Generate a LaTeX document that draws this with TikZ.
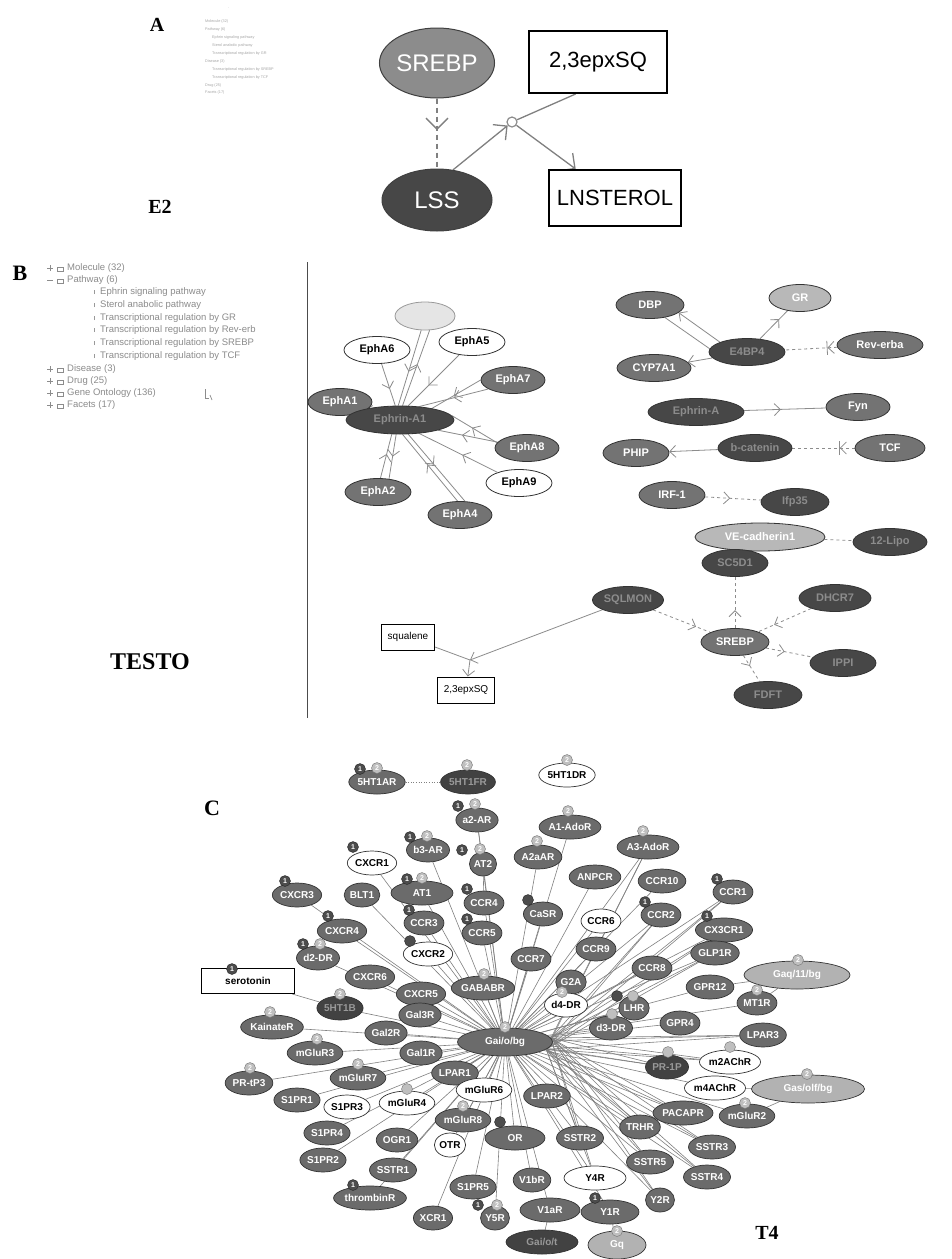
\documentclass[tikz,border=0pt]{standalone}
\usepackage{fontspec}
\setmainfont{Liberation Serif}
\setsansfont{Liberation Sans}
\usetikzlibrary{shapes.geometric,arrows.meta,decorations.markings}
\pgfdeclarelayer{bgzero}
\pgfdeclarelayer{edges}
\pgfsetlayers{bgzero,edges,main}
\tikzset{
  lbl/.style={font=\bfseries\fontsize{20}{22}\selectfont, inner sep=0},
  tinytxt/.style={font=\sffamily\fontsize{3.8}{4}\selectfont, text=black!35, anchor=west, inner sep=0},
  tree/.style={font=\sffamily\fontsize{9.5}{10}\selectfont, text=black!45, anchor=west, inner sep=0},
  ellA/.style={ellipse, draw=black!75, line width=1pt, text=white, font=\sffamily\fontsize{24}{26}\selectfont, inner sep=0},
  boxA/.style={rectangle, draw=black, line width=2pt, fill=white, font=\sffamily\fontsize{22}{24}\selectfont, inner sep=0},
  edA/.style={draw=black!50, line width=1.3pt},
  nB/.style={ellipse, draw=black!80, line width=0.8pt, fill=black!55, text=white, font=\sffamily\bfseries\fontsize{11}{12}\selectfont, inner xsep=1pt, inner ysep=2pt, minimum height=27},
  nBw/.style={nB, fill=white, text=black},
  nBd/.style={nB, fill=black!72, text=black!45},
  nBl/.style={nB, fill=black!28, text=white},
  boxB/.style={rectangle, draw=black, line width=1pt, fill=white, font=\sffamily\fontsize{10}{11}\selectfont, minimum height=26, inner xsep=6pt},
  edB/.style={draw=black!45, line width=0.8pt},
  barbat/.style={postaction={decorate,decoration={markings,mark=at position #1 with {\arrow[line width=0.8pt]{Straight Barb[length=6pt,width=12pt]}}}}},
  barbbar/.style={postaction={decorate,decoration={markings,mark=at position #1 with {\arrow[line width=0.8pt]{Straight Barb[length=6pt,width=12pt] Bar[width=14pt]}}}}},
  bigbarb/.style={postaction={decorate,decoration={markings,mark=at position #1 with {\arrow[line width=1.3pt]{Straight Barb[length=11pt,width=22pt]}}}}},
  cg/.style={ellipse, draw=black!80, line width=0.7pt, fill=black!58, text=white, font=\sffamily\bfseries\fontsize{10}{11}\selectfont, inner xsep=0.5pt, inner ysep=2pt, minimum height=24},
  cw/.style={cg, fill=white, text=black},
  cd/.style={cg, fill=black!74, text=black!40},
  cl/.style={cg, fill=black!30, text=white, minimum height=28},
  bo/.style={circle, fill=black!70, draw=black!85, text=white, font=\sffamily\bfseries\fontsize{7}{7}\selectfont, inner sep=0, minimum size=11},
  bt/.style={bo, fill=black!25, draw=black!55},
  ce/.style={draw=black!50, line width=0.6pt},
}
\begin{document}
\begin{tikzpicture}[x=1pt,y=-1pt]
\useasboundingbox (0,0) rectangle (951,1259);
\begin{pgfonlayer}{bgzero}\fill[white] (0,0) rectangle (951,1259);\end{pgfonlayer}

% ================= PANEL A =================
\node[lbl] (labA) at (157,25) {A};
\node[lbl] (labE2) at (160,207) {E2};
\node[tinytxt] (ta0) at (228,8) {.};
\node[tinytxt] (ta1) at (205,22) {Molecule (32)};
\node[tinytxt] (ta2) at (205,30) {Pathway (6)};
\node[tinytxt] (ta3) at (212,38) {Ephrin signaling pathway};
\node[tinytxt] (ta4) at (212,46) {Sterol anabolic pathway};
\node[tinytxt] (ta5) at (212,54) {Transcriptional regulation by GR};
\node[tinytxt] (ta6) at (205,62) {Disease (3)};
\node[tinytxt] (ta7) at (212,70) {Transcriptional regulation by SREBP};
\node[tinytxt] (ta8) at (212,78) {Transcriptional regulation by TCF};
\node[tinytxt] (ta9) at (205,86) {Drug (25)};
\node[tinytxt] (ta10) at (205,93) {Facets (17)};

\node[ellA, fill=black!45, minimum width=106, minimum height=70] (srebpA) at (437,63) {SREBP};
\node[boxA, minimum width=138, minimum height=62] (epxA) at (598,62) {2,3epxSQ};
\node[ellA, fill=black!72, minimum width=110, minimum height=62] (lssA) at (437,200) {LSS};
\node[boxA, minimum width=132, minimum height=56] (lnsA) at (615,198) {LNSTEROL};
\node[circle, draw=black!45, line width=1.2pt, minimum size=10, inner sep=0, fill=white] (rxA) at (512,122) {};
\begin{pgfonlayer}{edges}
\draw[edA, dashed, dash pattern=on 5pt off 4pt, bigbarb=0.45] (srebpA) -- (lssA);
\draw[edA, -{Straight Barb[length=10pt,width=20pt]}] (lssA.62) -- (rxA);
\draw[edA] (epxA.-125) -- (rxA);
\draw[edA, -{Straight Barb[length=11pt,width=22pt]}] (rxA) -- (lnsA);
\end{pgfonlayer}

% ================= PANEL B =================
\node[lbl, font=\bfseries\fontsize{22}{24}\selectfont] (labB) at (20,273) {B};
\draw[black!70, line width=1pt] (307,262) -- (307,718);
\node[tree] (t0) at (67,268) {Molecule (32)};
\node[tree] (t1) at (67,280) {Pathway (6)};
\node[tree] (t2) at (100,292) {Ephrin signaling pathway};
\node[tree] (t3) at (100,305) {Sterol anabolic pathway};
\node[tree] (t4) at (100,318) {Transcriptional regulation by GR};
\node[tree] (t5) at (100,330) {Transcriptional regulation by Rev-erb};
\node[tree] (t6) at (100,343) {Transcriptional regulation by SREBP};
\node[tree] (t7) at (100,356) {Transcriptional regulation by TCF};
\node[tree] (t8) at (67,369) {Disease (3)};
\node[tree] (t9) at (67,381) {Drug (25)};
\node[tree] (t10) at (67,393) {Gene Ontology (136)};
\node[tree] (t11) at (67,405) {Facets (17)};
\foreach \yy in {268,369,381,393,405} {\draw[black!45, line width=0.6pt] (47,\yy) -- (53,\yy) (50,\yy-3) -- (50,\yy+3);}
\draw[black!45, line width=0.6pt] (47,280) -- (53,280);
\foreach \yy in {268,280,369,381,393,405} {\draw[black!45, line width=0.6pt] (57,\yy+3) -- (57,\yy-1) -- (63,\yy-1) -- (63,\yy+3) -- cycle;}
\foreach \yy in {292,305,318,330,343,356} {\draw[black!40, line width=0.6pt] (94,\yy+2) -- (94,\yy-2);}
\draw[black!45, line width=0.7pt] (205,389) -- (205,398) -- (209,398);
\draw[black!45, line width=0.7pt] (210,395) -- (212,400);

\node[nB, fill=black!10, draw=black!40, minimum width=60, minimum height=28] (blank) at (425,316) {};
\node[nBw, minimum width=66] (ephA6) at (377,350) {EphA6};
\node[nBw, minimum width=66] (ephA5) at (472,342) {EphA5};
\node[nB, minimum width=64] (ephA7) at (513,380) {EphA7};
\node[nB, minimum width=64] (ephA1) at (340,402) {EphA1};
\node[nBd, minimum width=108, minimum height=28] (ephrinA1) at (400,420) {Ephrin-A1};
\node[nB, minimum width=64] (ephA8) at (527,448) {EphA8};
\node[nBw, minimum width=66] (ephA9) at (519,483) {EphA9};
\node[nB, minimum width=66] (ephA2) at (378,492) {EphA2};
\node[nB, minimum width=64] (ephA4) at (460,515) {EphA4};
\begin{pgfonlayer}{edges}
\draw[edB, barbat=0.6] (ephA6) -- (ephrinA1);
\draw[edB, barbat=0.55] (blank.-105) -- (ephrinA1.97);
\draw[edB, barbat=0.55] (ephrinA1.80) -- (blank.-72);
\draw[edB, barbat=0.6] (ephA5) -- (ephrinA1.60);
\draw[edB, barbat=0.5] (ephA7.200) -- (ephrinA1.35);
\draw[edB, barbat=0.55] (ephA7.180) -- (ephrinA1.20);
\draw[edB, barbat=0.7] (ephA1) -- (ephrinA1);
\draw[edB, barbat=0.6] (ephA8) -- (ephrinA1.-15);
\draw[edB, barbat=0.55] (ephA8.170) -- (ephrinA1.5);
\draw[edB, barbat=0.45] (ephA9) -- (ephrinA1.-35);
\draw[edB, barbat=0.55] (ephA2.80) -- (ephrinA1.-120);
\draw[edB, barbat=0.5] (ephrinA1.-105) -- (ephA2.50);
\draw[edB, barbat=0.55] (ephA4.100) -- (ephrinA1.-80);
\draw[edB, barbat=0.45] (ephrinA1.-60) -- (ephA4.70);
\end{pgfonlayer}

\node[nB, minimum width=68] (dbp) at (650,305) {DBP};
\node[nBl, minimum width=62] (gr) at (800,298) {GR};
\node[nBd, minimum width=76] (e4bp4) at (747,352) {E4BP4};
\node[nB, minimum width=86] (reverb) at (880,345) {Rev-erba};
\node[nB, minimum width=74] (cyp) at (654,368) {CYP7A1};
\node[nBd, minimum width=96] (ephrinA) at (696,412) {Ephrin-A};
\node[nB, minimum width=64] (fyn) at (858,407) {Fyn};
\node[nB, minimum width=66] (phip) at (636,453) {PHIP};
\node[nBd, minimum width=74] (bcat) at (755,448) {b-catenin};
\node[nB, minimum width=70] (tcf) at (890,448) {TCF};
\node[nB, minimum width=66] (irf) at (672,495) {IRF-1};
\node[nBd, minimum width=68] (ifp) at (795,502) {Ifp35};
\node[nBl, minimum width=130, minimum height=28] (vecad) at (760,537) {VE-cadherin1};
\node[nBd, minimum width=74] (lipo) at (890,542) {12-Lipo};
\node[nBd, minimum width=66] (sc5d) at (735,563) {SC5D1};
\node[nBd, minimum width=68] (sqlmon) at (628,600) {SQLMON};
\node[nBd, minimum width=72] (dhcr) at (835,598) {DHCR7};
\node[boxB] (squal) at (408,637) {squalene};
\node[nB, minimum width=68] (srebpB) at (735,642) {SREBP};
\node[nBd, minimum width=66] (ippi) at (843,663) {IPPI};
\node[boxB] (epxB) at (466,690) {2,3epxSQ};
\node[nBd, minimum width=68] (fdft) at (768,695) {FDFT};
\coordinate (jB) at (470,660);
\begin{pgfonlayer}{edges}
\draw[edB, -{Straight Barb[length=6pt,width=12pt]}] (e4bp4.160) -- (dbp.-15);
\draw[edB] (e4bp4.175) -- (dbp.-40);
\draw[edB, barbat=0.7] (e4bp4) -- (gr);
\draw[edB, dashed, barbbar=0.2] (reverb) -- (e4bp4);
\draw[edB, -{Straight Barb[length=6pt,width=12pt]}] (e4bp4) -- (cyp);
\draw[edB, barbat=0.45] (ephrinA) -- (fyn);
\draw[edB, -{Straight Barb[length=6pt,width=12pt]}] (bcat) -- (phip);
\draw[edB, dashed, barbbar=0.25] (tcf) -- (bcat);
\draw[edB, dashed, barbat=0.45] (irf) -- (ifp);
\draw[edB, dashed] (vecad) -- (lipo);
\draw[edB, dashed, barbat=0.35] (srebpB) -- (sc5d);
\draw[edB, dashed, barbat=0.75] (sqlmon) -- (srebpB);
\draw[edB, dashed, barbat=0.7] (dhcr) -- (srebpB);
\draw[edB, dashed, barbat=0.4] (srebpB) -- (ippi);
\draw[edB, dashed, barbat=0.4] (srebpB) -- (fdft);
\draw[edB] (squal) -- (jB);
\draw[edB, -{Straight Barb[length=6pt,width=12pt]}] (sqlmon) -- (jB);
\draw[edB, -{Straight Barb[length=6pt,width=12pt]}] (jB) -- (epxB);
\end{pgfonlayer}
\node[lbl, font=\bfseries\fontsize{24}{26}\selectfont] (labT) at (150,662) {TESTO};

% ================= PANEL C =================
\node[lbl, font=\bfseries\fontsize{22}{24}\selectfont] (labC) at (212,808) {C};
\node[lbl] (labT4) at (767,1233) {T4};

\node[cg] (c5HT1AR) at (377,782) {5HT1AR}; \node[bo] (k1) at (360,769) {1}; \node[bt] (k2) at (377,768) {2};
\node[cd] (c5HT1FR) at (468,782) {5HT1FR}; \node[bt] (k3) at (467,765) {2};
\node[cw] (c5HT1DR) at (567,775) {5HT1DR}; \node[bt] (k4) at (567,760) {2};

\node[cg] (ca2AR) at (477,820) {a2-AR}; \node[bo] (k5) at (458,806) {1}; \node[bt] (k6) at (475,804) {2};
\node[cg] (cA1Ado) at (570,827) {A1-AdoR}; \node[bt] (k7) at (568,811) {2};
\node[cg] (cA3Ado) at (648,847) {A3-AdoR}; \node[bt] (k8) at (643,831) {2};
\node[cw] (cCXCR1) at (372,863) {CXCR1}; \node[bo] (k9) at (353,847) {1};
\node[cg] (cb3AR) at (428,850) {b3-AR}; \node[bo] (k10) at (410,837) {1}; \node[bt] (k11) at (427,836) {2};
\node[cg] (cAT2) at (483,864) {AT2}; \node[bo] (k12) at (462,850) {1}; \node[bt] (k13) at (480,849) {2};
\node[cg] (cA2aAR) at (538,857) {A2aAR}; \node[bt] (k14) at (537,841) {2};
\node[cg] (cANPCR) at (595,877) {ANPCR};
\node[cg] (cCCR10) at (662,881) {CCR10};
\node[cg] (cCCR1) at (733,892) {CCR1}; \node[bo] (k15) at (717,879) {1};
\node[cg] (cCXCR3) at (297,895) {CXCR3}; \node[bo] (k16) at (285,881) {1};
\node[cg] (cBLT1) at (362,895) {BLT1};
\node[cg, minimum width=62] (cAT1) at (422,893) {AT1}; \node[bo] (k17) at (407,879) {1}; \node[bt] (k18) at (422,878) {2};
\node[cg] (cCCR4) at (484,903) {CCR4}; \node[bo] (k19) at (467,889) {1};
\node[cg] (cCaSR) at (543,914) {CaSR}; \node[bo] (k20) at (528,900) {};
\node[cw] (cCCR6) at (601,921) {CCR6};
\node[cg] (cCCR2) at (661,915) {CCR2}; \node[bo] (k21) at (645,902) {1};
\node[cg] (cCX3CR1) at (724,930) {CX3CR1}; \node[bo] (k22) at (707,916) {1};
\node[cg] (cCXCR4) at (342,931) {CXCR4}; \node[bo] (k23) at (328,916) {1};
\node[cg] (cCCR3) at (424,923) {CCR3}; \node[bo] (k24) at (409,910) {1};
\node[cg] (cCCR5) at (482,933) {CCR5}; \node[bo] (k25) at (467,919) {1};
\node[cw] (cCXCR2) at (428,954) {CXCR2}; \node[bo] (k26) at (410,941) {};
\node[cg] (cd2DR) at (318,958) {d2-DR}; \node[bo] (k27) at (303,944) {1}; \node[bt] (k28) at (320,944) {2};
\node[cg] (cCCR9) at (596,949) {CCR9};
\node[cg] (cGLP1R) at (715,953) {GLP1R};
\node[cg] (cCCR7) at (531,959) {CCR7};
\node[cl, minimum width=106] (cGaq) at (797,975) {Gaq/11/bg}; \node[bt] (k29) at (798,960) {2};
\node[rectangle, draw=black, line width=0.8pt, fill=white, font=\sffamily\bfseries\fontsize{10}{11}\selectfont, minimum width=93, minimum height=25] (cserot) at (248,981) {serotonin}; \node[bo] (k30) at (232,969) {1};
\node[cg] (cCXCR6) at (370,977) {CXCR6};
\node[cg] (cG2A) at (571,982) {G2A};
\node[cg] (cCCR8) at (652,968) {CCR8};
\node[cg] (cGPR12) at (710,987) {GPR12};
\node[cg] (cGABABR) at (483,988) {GABABR}; \node[bt] (k31) at (484,974) {2};
\node[cg] (cCXCR5) at (421,994) {CXCR5};
\node[cw] (cd4DR) at (566,1005) {d4-DR}; \node[bt] (k32) at (562,992) {2};
\node[cg] (cLHR) at (634,1008) {LHR}; \node[bo] (k33) at (617,996) {}; \node[bt] (k34) at (633,996) {};
\node[cg] (cMT1R) at (757,1003) {MT1R}; \node[bt] (k35) at (757,990) {2};
\node[cd] (c5HT1B) at (340,1008) {5HT1B}; \node[bt] (k36) at (340,994) {2};
\node[cg] (cGal3R) at (420,1015) {Gal3R};
\node[cg] (cKainR) at (272,1027) {KainateR}; \node[bt] (k37) at (270,1012) {2};
\node[cg] (cd3DR) at (611,1028) {d3-DR}; \node[bt] (k38) at (612,1014) {};
\node[cg] (cGPR4) at (680,1023) {GPR4};
\node[cg] (cLPAR3) at (763,1035) {LPAR3};
\node[cg] (cGal2R) at (386,1033) {Gal2R};
\node[cg, minimum width=95, minimum height=28] (hub) at (505,1042) {Gai/o/bg}; \node[bt] (k39) at (505,1027) {2};
\node[cg] (cmGluR3) at (315,1053) {mGluR3}; \node[bt] (k40) at (317,1039) {2};
\node[cg] (cGal1R) at (421,1053) {Gal1R};
\node[cd] (cPR1P) at (667,1067) {PR-1P}; \node[bt] (k41) at (668,1052) {};
\node[cw] (cm2AChR) at (730,1062) {m2AChR}; \node[bt] (k42) at (730,1047) {};
\node[cg] (cLPAR1) at (455,1073) {LPAR1};
\node[cg] (cmGluR7) at (358,1078) {mGluR7}; \node[bt] (k43) at (358,1064) {2};
\node[cg] (cPRtP3) at (249,1083) {PR-tP3}; \node[bt] (k44) at (250,1068) {2};
\node[cw] (cm4AChR) at (715,1088) {m4AChR};
\node[cl, minimum width=113] (cGas) at (808,1089) {Gas/olf/bg}; \node[bt] (k45) at (807,1074) {2};
\node[cw] (cmGluR6) at (484,1090) {mGluR6};
\node[cg] (cLPAR2) at (547,1096) {LPAR2};
\node[cg] (cS1PR1) at (297,1100) {S1PR1};
\node[cw] (cS1PR3) at (347,1107) {S1PR3};
\node[cw] (cmGluR4) at (407,1103) {mGluR4}; \node[bt] (k46) at (407,1089) {};
\node[cg] (cPACAPR) at (683,1113) {PACAPR};
\node[cg] (cmGluR2) at (747,1116) {mGluR2}; \node[bt] (k47) at (745,1103) {2};
\node[cg] (cmGluR8) at (463,1120) {mGluR8}; \node[bt] (k48) at (463,1106) {2};
\node[cg] (cTRHR) at (640,1127) {TRHR};
\node[cg] (cS1PR4) at (327,1133) {S1PR4};
\node[cg] (cOGR1) at (397,1140) {OGR1};
\node[cw] (cOTR) at (450,1145) {OTR};
\node[cg, minimum width=60] (cOR) at (515,1138) {OR}; \node[bo] (k49) at (500,1122) {};
\node[cg] (cSSTR2) at (580,1138) {SSTR2};
\node[cg] (cSSTR3) at (712,1147) {SSTR3};
\node[cg] (cS1PR2) at (323,1160) {S1PR2};
\node[cg] (cSSTR5) at (650,1162) {SSTR5};
\node[cg] (cSSTR1) at (393,1170) {SSTR1};
\node[cg] (cSSTR4) at (707,1177) {SSTR4};
\node[cw, minimum width=62] (cY4R) at (595,1178) {Y4R};
\node[cg] (cV1bR) at (532,1180) {V1bR};
\node[cg] (cS1PR5) at (473,1187) {S1PR5};
\node[cg] (cthromb) at (370,1198) {thrombinR}; \node[bo] (k50) at (353,1185) {1};
\node[cg] (cY2R) at (660,1200) {Y2R};
\node[cg, minimum width=60] (cV1aR) at (550,1210) {V1aR};
\node[cg, minimum width=58] (cY1R) at (610,1212) {Y1R}; \node[bo] (k51) at (595,1198) {1};
\node[cg] (cXCR1) at (433,1218) {XCR1};
\node[cg] (cY5R) at (495,1218) {Y5R}; \node[bo] (k52) at (478,1205) {1}; \node[bt] (k53) at (497,1205) {2};
\node[cd, minimum width=72] (cGat) at (542,1242) {Gai/o/t};
\node[cl, minimum width=58] (cGq) at (617,1245) {Gq}; \node[bt] (k54) at (617,1231) {2};

\begin{pgfonlayer}{edges}
\foreach \n in {ca2AR,cA1Ado,cA3Ado,cCXCR1,cb3AR,cAT2,cA2aAR,cANPCR,cCCR10,cCCR1,cCXCR3,cBLT1,cAT1,cCCR4,cCaSR,cCCR6,cCCR2,cCX3CR1,cCXCR4,cCCR3,cCCR5,cCXCR2,cd2DR,cCCR9,cGLP1R,cCCR7,cCXCR6,cG2A,cCCR8,cGPR12,cGABABR,cCXCR5,cd4DR,cLHR,cMT1R,c5HT1B,cGal3R,cKainR,cd3DR,cGPR4,cLPAR3,cGal2R,cmGluR3,cGal1R,cPR1P,cm2AChR,cLPAR1,cmGluR7,cPRtP3,cm4AChR,cmGluR6,cLPAR2,cS1PR1,cS1PR3,cmGluR4,cPACAPR,cmGluR2,cmGluR8,cTRHR,cS1PR4,cOGR1,cOTR,cOR,cSSTR2,cSSTR3,cS1PR2,cSSTR5,cSSTR1,cSSTR4,cY4R,cV1bR,cS1PR5,cthromb,cY2R,cV1aR,cY1R,cXCR1,cY5R}
  {\draw[ce] (hub) -- (\n);}
\foreach \n in {cCCR1,cCX3CR1,cGLP1R,cCCR2,cA3Ado,cLPAR3,cPR1P,cm2AChR,cPACAPR,cSSTR3,cSSTR4,cTRHR,cSSTR5,cY2R,cSSTR2,cY4R}
  {\draw[ce] (hub.-10) -- (\n); \draw[ce] (hub.5) -- (\n);}
\draw[ce, dotted, line width=0.8pt] (c5HT1AR) -- (c5HT1FR);
\draw[ce] (cserot) -- (c5HT1B);
\draw[ce] (ca2AR) -- (cAT2);
\draw[ce] (cAT2) -- (cCCR4);
\draw[ce] (cGaq) -- (cMT1R);
\draw[ce] (cGaq) -- (cGPR12);
\draw[ce] (cGas) -- (cm4AChR);
\draw[ce] (cGas) -- (cmGluR2);
\draw[ce] (cGq) -- (cY1R);
\draw[ce] (cGat) -- (cV1aR);
\end{pgfonlayer}
\end{tikzpicture}
\end{document}
